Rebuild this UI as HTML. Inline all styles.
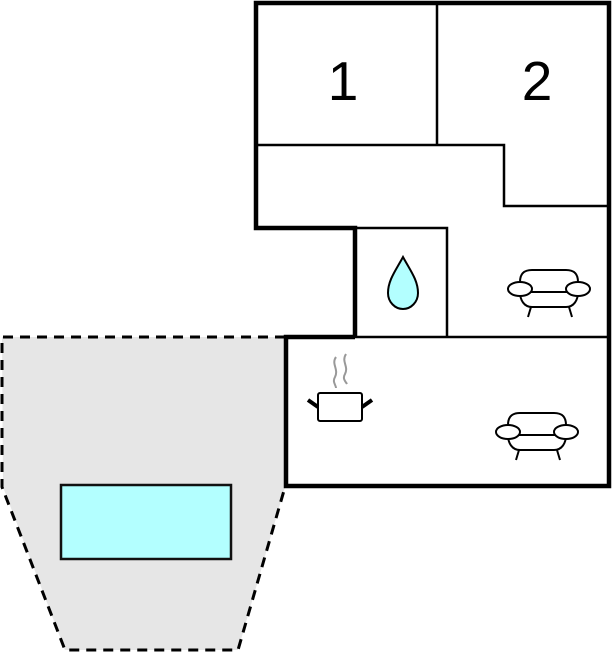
<!DOCTYPE html>
<html><head><meta charset="utf-8"><style>html,body{margin:0;padding:0;background:#fff}svg{display:block}</style></head>
<body>
<svg width="613" height="652" viewBox="0 0 613 652" xmlns="http://www.w3.org/2000/svg">
<polygon points="2,337 285,337 285,487 238,650 65,650 3,487" fill="#e6e6e6"/>
<polyline points="285,337 2,337 2,487 65,650 238,650 285,487" fill="none" stroke="#000" stroke-width="3" stroke-dasharray="10,7"/>
<rect x="61" y="485" width="170" height="74" fill="#b3ffff" stroke="#111" stroke-width="2.5"/>
<rect x="286" y="337" width="323" height="149" fill="#fff"/>
<polygon points="256,3 609,3 609,337 355,337 355,228 256,228" fill="#fff"/>
<g stroke="#000" stroke-width="2.5" fill="none">
<line x1="437" y1="3" x2="437" y2="145"/>
<polyline points="256,145 504,145 504,206 609,206"/>
<polyline points="355,228 447,228 447,337"/>
<line x1="355" y1="337" x2="609" y2="337"/>
</g>
<g stroke="#000" stroke-width="4.5" fill="none" stroke-linejoin="miter">
<polyline points="355,337 355,228 256,228 256,3 609,3 609,486 286,486 286,337 355,337"/>
</g>
<text x="343" y="100" font-family="Liberation Sans, sans-serif" font-size="55" text-anchor="middle">1</text>
<text x="537" y="100" font-family="Liberation Sans, sans-serif" font-size="55" text-anchor="middle">2</text>
<path d="M403,257 C396,270 388,280 388,293 C388,302 395,309 403,309 C411,309 418,302 418,293 C418,280 410,270 403,257 Z" fill="#b3ffff" stroke="#000" stroke-width="2"/>
<g id="sofa" fill="#fff" stroke="#000" stroke-width="2">
<path d="M520,282 C520,272 526,270 532,270 L566,270 C572,270 578,272 578,282"/>
<path d="M520,292 C520,300 524,307 532,307 L566,307 C574,307 578,300 578,292"/>
<line x1="523" y1="292" x2="575" y2="292"/>
<ellipse cx="520" cy="289" rx="12" ry="7"/>
<ellipse cx="578" cy="289" rx="12" ry="7"/>
<line x1="531" y1="307" x2="528" y2="317"/>
<line x1="569" y1="307" x2="572" y2="317"/>
</g>
<use href="#sofa" transform="translate(-12,143)"/>
<rect x="318" y="393" width="44" height="28" rx="2" fill="#fff" stroke="#000" stroke-width="2"/>
<line x1="308" y1="400" x2="318" y2="407" stroke="#000" stroke-width="4"/>
<line x1="362" y1="407" x2="372" y2="400" stroke="#000" stroke-width="4"/>
<path d="M336,357 C331,364 339,369 335,377 C332,382 336,385 336,388" fill="none" stroke="#999" stroke-width="2"/>
<path d="M346,354 C341,362 349,366 345,374 C342,379 346,382 347,384" fill="none" stroke="#999" stroke-width="2"/>
</svg>
</body></html>
